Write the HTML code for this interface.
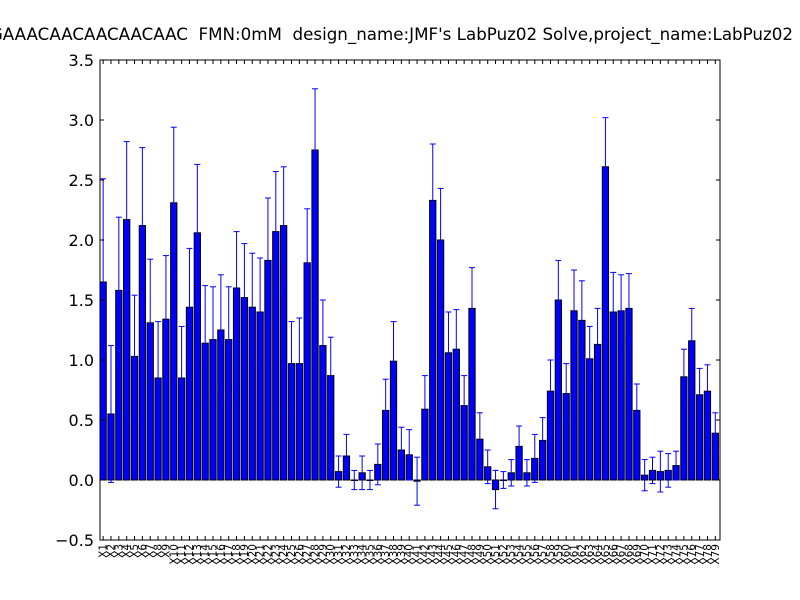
<!DOCTYPE html>
<html><head><meta charset="utf-8"><style>
html,body{margin:0;padding:0;background:#fff;}
svg{display:block;font-family:"DejaVu Sans","Liberation Sans",sans-serif;}
</style></head><body>
<svg id="chart" width="800" height="600">
<rect x="0" y="0" width="800" height="600" fill="#fff"/>
<text x="793" y="40" font-size="16.7" fill="#000" text-anchor="end" style="white-space:pre" xml:space="preserve">ACGAAACAACAACAACAAC  FMN:0mM  design_name:JMF's LabPuz02 Solve,project_name:LabPuz02</text>
<g id="plot"></g>
</svg>
<script>
const categories = Array.from({length:79},(_,i)=>'X'+(i+1));
const values = [1.65,0.55,1.58,2.17,1.03,2.12,1.31,0.85,1.34,2.31,0.85,1.44,2.06,1.14,1.17,1.25,1.17,1.60,1.52,1.44,1.40,1.83,2.07,2.12,0.97,0.97,1.81,2.75,1.12,0.87,0.07,0.20,0.00,0.06,0.00,0.13,0.58,0.99,0.25,0.21,-0.01,0.59,2.33,2.00,1.06,1.09,0.62,1.43,0.34,0.11,-0.08,0.00,0.06,0.28,0.06,0.18,0.33,0.74,1.50,0.72,1.41,1.33,1.01,1.13,2.61,1.40,1.41,1.43,0.58,0.04,0.08,0.07,0.08,0.12,0.86,1.16,0.71,0.74,0.39];
const upper = [2.51,1.12,2.19,2.82,1.54,2.77,1.84,1.32,1.87,2.94,1.28,1.93,2.63,1.62,1.61,1.71,1.61,2.07,1.97,1.89,1.85,2.35,2.57,2.61,1.32,1.35,2.26,3.26,1.50,1.19,0.20,0.38,0.08,0.20,0.08,0.30,0.84,1.32,0.44,0.42,0.19,0.87,2.80,2.43,1.40,1.42,0.87,1.77,0.56,0.25,0.08,0.07,0.17,0.45,0.17,0.38,0.52,1.00,1.83,0.97,1.75,1.66,1.28,1.43,3.02,1.73,1.71,1.72,0.80,0.17,0.19,0.24,0.22,0.24,1.09,1.43,0.93,0.96,0.56];
const yTicks = [-0.5,0.0,0.5,1.0,1.5,2.0,2.5,3.0,3.5];
const yTickLabels = ['\u22120.5','0.0','0.5','1.0','1.5','2.0','2.5','3.0','3.5'];

const L=100,R=720,T=60,B=540,yMin=-0.5,yMax=3.5;
const n=categories.length;
const step=(R-L)/n;
function xPos(i){return L+i*step;}
function yPos(v){return B-(v-yMin)/(yMax-yMin)*(B-T);}
const NS='http://www.w3.org/2000/svg';
const g=document.getElementById('plot');
function mk(tag,attrs,parent){const e=document.createElementNS(NS,tag);for(const k in attrs)e.setAttribute(k,attrs[k]);(parent||g).appendChild(e);return e;}

const bw=step*0.8;
for(let i=0;i<n;i++){
  const v=values[i];
  const y0=yPos(0),y1=yPos(v);
  const r=mk('rect',{x:xPos(i),y:Math.min(y0,y1),width:bw,height:Math.max(Math.abs(y1-y0),0.5),fill:'#0000ff',stroke:'#000','stroke-width':1});
  
  
}
for(let i=0;i<n;i++){
  const v=values[i],e=upper[i]-values[i];
  const cx=xPos(i)+bw/2;
  const eg=mk('g',{stroke:'#0000ff','stroke-width':1});
  
  
  mk('line',{x1:cx,x2:cx,y1:yPos(v-e),y2:yPos(v+e)},eg);
  mk('line',{x1:cx-3,x2:cx+3,y1:yPos(v-e),y2:yPos(v-e)},eg);
  mk('line',{x1:cx-3,x2:cx+3,y1:yPos(v+e),y2:yPos(v+e)},eg);
}
const frame=mk('rect',{x:L,y:T,width:R-L,height:B-T,fill:'none',stroke:'#000','stroke-width':1});


for(let k=0;k<yTicks.length;k++){
  const y=yPos(yTicks[k]);
  mk('line',{x1:L,x2:L+4,y1:y,y2:y,stroke:'#000'});
  mk('line',{x1:R-4,x2:R,y1:y,y2:y,stroke:'#000'});
  const t=mk('text',{x:L-6,y:y+6,'text-anchor':'end','font-size':16,fill:'#000'});
  t.textContent=yTickLabels[k];
  
  
}
for(let i=0;i<n;i++){
  const cx=xPos(i)+bw/2;
  mk('line',{x1:cx,x2:cx,y1:B,y2:B-4,stroke:'#000'});
  mk('line',{x1:cx,x2:cx,y1:T,y2:T+4,stroke:'#000'});
  const t=mk('text',{x:0,y:0,'text-anchor':'end','font-size':10.5,fill:'#000',transform:'translate('+(cx+3.5)+','+(B+4)+') rotate(-90)'});
  t.textContent=categories[i];
  
  
}
</script>
</body></html>
